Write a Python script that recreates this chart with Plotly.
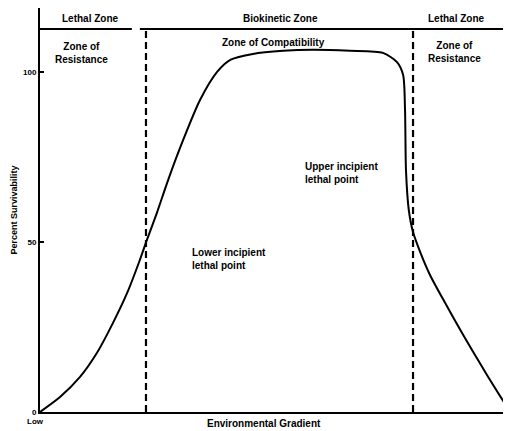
import plotly.graph_objects as go

# Survivability curve along the environmental gradient (x: 0-100 gradient units, y: percent)
gradient = [0, 4.25, 8.5, 12.1, 15.5, 18.5, 21.2, 22.7, 24.8, 27.2, 30.4, 34.0, 37.6, 40.5,
            45.2, 51.6, 58.0, 65.8, 72.8, 75.8, 77.1, 77.5, 77.7, 78.3, 79.2, 80.7, 82.8,
            86.0, 90.2, 94.9, 99.8]
survival = [0, 4.4, 10.3, 17.4, 26.2, 35.0, 44.7, 50.6, 58.5, 68.2, 80.0, 91.8, 100.0, 103.6,
            105.3, 106.2, 106.5, 106.2, 105.6, 102.9, 99.1, 88.8, 71.2, 59.4, 52.9, 47.1, 40.3,
            32.1, 21.8, 10.9, 0]

# Incipient lethal points (vertical dashed boundaries)
boundaries = [22.5, 79.2]
top_level = 112.6
top_segments = [(0, 19.5), (21.2, 100)]

y_ticks = [0, 50, 100]
y_ticktext = ["0", "50", "100"]

header_labels = ["Lethal Zone", "Biokinetic Zone", "Lethal Zone"]
header_x = [10.8, 51.0, 88.5]
header_y = 115.7

zone_labels = ["Zone of<br>Resistance", "Zone of Compatibility", "Zone of<br>Resistance"]
zone_x = [8.9, 49.5, 88.1]
zone_y = [105.6, 108.6, 105.9]

point_labels = ["Upper incipient<br>lethal point", "Lower incipient<br>lethal point"]
point_x = [55.8, 31.8]
point_y = [70.4, 45.0]

FONT = "Liberation Sans"
FS = 10

fig = go.Figure()

fig.add_trace(go.Scatter(x=gradient, y=survival, mode="lines",
                         line=dict(color="black", width=2, shape="spline", smoothing=0.7),
                         hoverinfo="skip", showlegend=False))

for bx in boundaries:
    fig.add_trace(go.Scatter(x=[bx, bx], y=[0, top_level], mode="lines",
                             line=dict(color="black", width=2.2, dash="7px,4px"),
                             hoverinfo="skip", showlegend=False))

for x0, x1 in top_segments:
    fig.add_trace(go.Scatter(x=[x0, x1], y=[top_level, top_level], mode="lines",
                             line=dict(color="black", width=2),
                             hoverinfo="skip", showlegend=False))

bold = dict(family=FONT, size=FS, color="black", weight="bold")
annots = []
for t, x in zip(header_labels, header_x):
    annots.append(dict(x=x, y=header_y, text=t, showarrow=False, font=bold))
for t, x, y in zip(zone_labels, zone_x, zone_y):
    annots.append(dict(x=x, y=y, text=t, showarrow=False, font=bold))
for t, x, y in zip(point_labels, point_x, point_y):
    annots.append(dict(x=x, y=y, text=t, showarrow=False, xanchor="left", align="left",
                       font=bold))
annots.append(dict(x=0, y=0, xref="x", yref="paper", text="Low", showarrow=False,
                   xanchor="right", yanchor="top", xshift=6, yshift=-3,
                   font=dict(family=FONT, size=8, color="black", weight="bold")))
annots.append(dict(x=47.5, y=0, xref="x", yref="paper", text="Environmental Gradient",
                   showarrow=False, yanchor="top", yshift=-4, font=bold))

fig.update_layout(
    width=503, height=423,
    margin=dict(l=32, r=0, t=0, b=19, autoexpand=False),
    paper_bgcolor="white", plot_bgcolor="white",
    annotations=annots,
    xaxis=dict(range=[0, 100], showgrid=False, zeroline=False, showticklabels=False,
               ticks="", showline=True, linecolor="black", linewidth=2, automargin=False),
    yaxis=dict(range=[0, 118.8], showgrid=False, zeroline=False, automargin=False,
               tickvals=y_ticks, ticktext=y_ticktext, ticks="inside", ticklen=4,
               tickwidth=2, tickcolor="black",
               tickfont=dict(family=FONT, size=8, color="black", weight="bold"),
               showline=True, linecolor="black", linewidth=2,
               title=dict(text="Percent Survivability", standoff=4,
                          font=dict(family=FONT, size=9, color="black", weight="bold"))),
    font=dict(family=FONT, color="black"),
)

fig.write_html("out.html")
